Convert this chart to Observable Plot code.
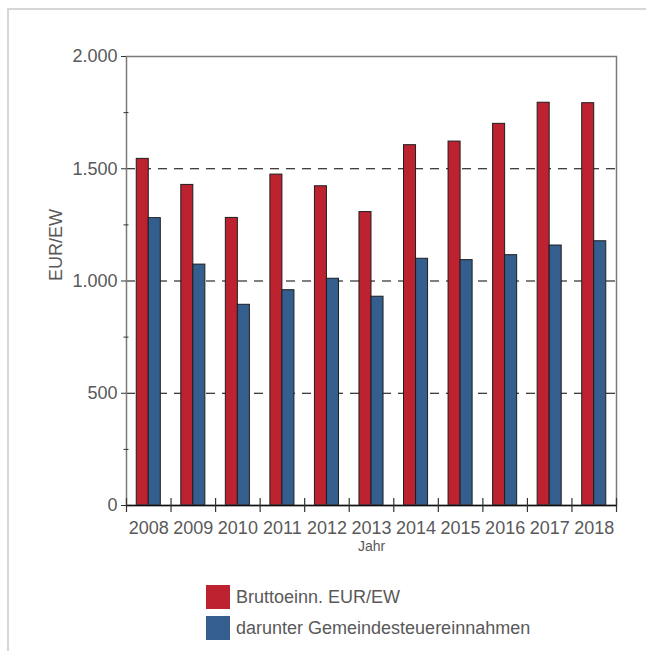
<!DOCTYPE html>
<html>
<head>
<meta charset="utf-8">
<script src="https://cdn.jsdelivr.net/npm/d3@7"></script>
<script src="https://cdn.jsdelivr.net/npm/@observablehq/plot@0.6"></script>
<style>
  html, body { margin: 0; padding: 0; background: #fff; }
  body { width: 646px; height: 651px; position: relative; overflow: hidden; font-family: "Liberation Sans", Arial, sans-serif; }
  #frame { position: absolute; left: 7px; top: 8px; width: 700px; height: 700px; border-left: 2px solid #d6d6d6; border-top: 2px solid #d6d6d6; }
  #chart { position: absolute; left: 0; top: 0; }
  #legend { position: absolute; left: 206px; top: 585px; color: #595959; font-size: 18px; }
  .item { display: flex; align-items: center; height: 24px; margin-bottom: 7px; }
  .sw { width: 24px; height: 24px; margin-right: 6px; }
</style>
</head>
<body>
<div id="frame"></div>
<div id="chart"></div>
<div id="legend"></div>
<script>
const years = [2008, 2009, 2010, 2011, 2012, 2013, 2014, 2015, 2016, 2017, 2018];
const brutto = [1544, 1428, 1281, 1474, 1422, 1307, 1605, 1621, 1700, 1794, 1792];
const gemeinde = [1280, 1073, 894, 959, 1010, 930, 1099, 1093, 1115, 1158, 1177];
const seriesNames = ["Bruttoeinn. EUR/EW", "darunter Gemeindesteuereinnahmen"];
const seriesColors = ["#BD2231", "#345E8E"];
const yTicks = [0, 500, 1000, 1500, 2000];
const yMinor = [250, 750, 1250, 1750];
const gridVals = [500, 1000, 1500];
const yLabel = "EUR/EW";
const xLabel = "Jahr";

const rows = years.map((y, i) => ({year: y, brutto: brutto[i], gemeinde: gemeinde[i]}));
const bounds = years.map(y => y - 0.5).concat([years[years.length - 1] + 0.5]);
const half = 0.27;
const fmt = d => d3.format(",")(d).replace(/,/g, ".");

const chart = Plot.plot({
  width: 646,
  height: 560,
  marginLeft: 126,
  marginRight: 30,
  marginTop: 56,
  marginBottom: 55,
  style: {fontFamily: "'Liberation Sans', Arial, sans-serif", fontSize: "18px", color: "#595959", background: "transparent"},
  x: {domain: [bounds[0], bounds[bounds.length - 1]]},
  y: {domain: [0, 2000]},
  marks: [
    Plot.ruleY(gridVals, {stroke: "#000", strokeWidth: 1, strokeDasharray: "9,7"}),
    Plot.rectY(rows, {x1: d => d.year - half, x2: d => d.year, y1: 0, y2: "brutto", fill: seriesColors[0], stroke: "#1e1e1e", strokeWidth: 1}),
    Plot.rectY(rows, {x1: d => d.year, x2: d => d.year + half, y1: 0, y2: "gemeinde", fill: seriesColors[1], stroke: "#1e1e1e", strokeWidth: 1}),
    Plot.frame({stroke: "#7a7a7a", strokeWidth: 1.5}),
    Plot.ruleY([0], {stroke: "#111", strokeWidth: 1.5}),
    Plot.ruleX(bounds, {x: d => d, y1: 0, y2: 0, insetTop: -7, insetBottom: -7, stroke: "#333", strokeWidth: 1.2}),
    Plot.ruleY(yMinor, {y: d => d, x1: bounds[0], x2: bounds[0], insetLeft: -2.5, insetRight: -2.5, stroke: "#333", strokeWidth: 1}),
    Plot.axisY(yTicks, {tickSize: 5, tickPadding: 4, tickFormat: fmt, label: null, stroke: "#333", fill: "#595959", fontSize: 18}),
    Plot.axisX(years, {tickSize: 0, tickPadding: 16, tickFormat: d => String(d), label: null, fill: "#595959", fontSize: 18}),
    Plot.text([yLabel], {text: d => d, frameAnchor: "left", rotate: -90, dx: -70, fill: "#595959", fontSize: 18}),
    Plot.text([xLabel], {text: d => d, frameAnchor: "bottom", dy: 45, fill: "#595959", fontSize: 14})
  ]
});
document.getElementById("chart").appendChild(chart);

const legend = document.getElementById("legend");
seriesNames.forEach((name, i) => {
  const item = document.createElement("div");
  item.className = "item";
  const sw = document.createElement("div");
  sw.className = "sw";
  sw.style.background = seriesColors[i];
  const lab = document.createElement("span");
  lab.textContent = name;
  item.appendChild(sw);
  item.appendChild(lab);
  legend.appendChild(item);
});
</script>
</body>
</html>
